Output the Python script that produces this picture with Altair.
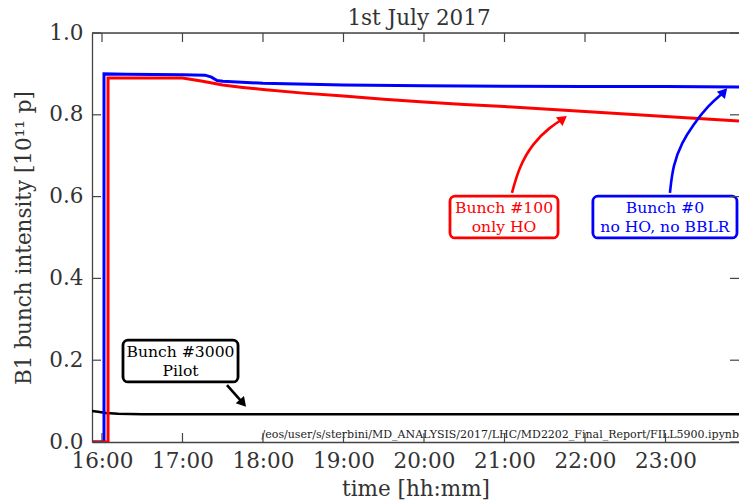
import altair as alt
import pandas as pd

# Time axis in decimal hours (1st July 2017), intensity in units of 1e11 protons
T_START, T_END = 15.876, 23.913

bunch0_t = [15.876, 16.025, 16.025, 16.3, 17.0, 17.28, 17.36, 17.43, 17.5, 18.0, 19.0, 20.0, 21.0, 22.0, 23.0, 23.913]
bunch0_v = [0.0, 0.0, 0.900, 0.899, 0.898, 0.897, 0.892, 0.884, 0.882, 0.877, 0.873, 0.871, 0.870, 0.869, 0.869, 0.868]

bunch100_t = [15.876, 16.075, 16.075, 16.5, 17.0, 17.25, 17.5, 17.75, 18.0, 18.5, 19.0, 19.5, 20.0, 20.5, 21.0, 22.0, 23.0, 23.913]
bunch100_v = [0.0, 0.0, 0.890, 0.890, 0.890, 0.882, 0.873, 0.867, 0.862, 0.853, 0.846, 0.838, 0.831, 0.825, 0.820, 0.808, 0.796, 0.785]

pilot_t = [15.876, 15.95, 16.05, 16.2, 16.5, 18.0, 20.0, 23.913]
pilot_v = [0.076, 0.074, 0.071, 0.069, 0.068, 0.068, 0.068, 0.068]

hour_ticks = [16, 17, 18, 19, 20, 21, 22, 23]
value_ticks = [0.0, 0.2, 0.4, 0.6, 0.8, 1.0]

# Annotation boxes: label, colour, box extent (hours / intensity)
box_labels = ["Bunch #3000\nPilot", "Bunch #100\nonly HO", "Bunch #0\nno HO, no BBLR"]
box_colors = ["#000000", "#ff0000", "#0000ff"]
box_t1 = [16.261, 20.323, 22.098]
box_t2 = [17.690, 21.665, 23.888]
box_v1 = [0.147, 0.499, 0.499]
box_v2 = [0.249, 0.601, 0.601]

# Arrow paths from each box towards its trace
arrow_pilot_t = [17.553, 17.751]
arrow_pilot_v = [0.139, 0.095]
arrow_red_t = [21.093, 21.180, 21.354, 21.565, 21.727]
arrow_red_v = [0.609, 0.672, 0.731, 0.770, 0.790]
arrow_blue_t = [23.055, 23.093, 23.205, 23.342, 23.527, 23.727]
arrow_blue_v = [0.609, 0.677, 0.733, 0.775, 0.822, 0.856]
head_angles = [139, 53, 42]

chart_title = "1st July 2017"
notebook_path = "/eos/user/s/sterbini/MD_ANALYSIS/2017/LHC/MD2202_Final_Report/FILL5900.ipynb"

W, H = 647, 409
FONT = "DejaVu Serif"
FS = 21.5
TXT = "#333333"
SPINE = "#444444"

x_scale = alt.Scale(domain=[T_START, T_END], nice=False, zero=False)
y_scale = alt.Scale(domain=[0, 1], nice=False, zero=False)
x_axis = alt.Axis(values=hour_ticks, labelExpr="datum.value + ':00'", ticks=False, grid=False,
                  domainColor=SPINE, domainWidth=1.3, labelFont=FONT, labelFontSize=FS,
                  labelColor=TXT, labelPadding=8, title="time [hh:mm]", titleFont=FONT,
                  titleFontSize=FS, titleFontWeight="normal", titleColor=TXT, titlePadding=7)
y_axis = alt.Axis(values=value_ticks, format=".1f", ticks=False, grid=False,
                  domainColor=SPINE, domainWidth=1.3, labelFont=FONT, labelFontSize=FS,
                  labelColor=TXT, labelPadding=9, title="B1 bunch intensity [10¹¹ p]",
                  titleFont=FONT, titleFontSize=FS, titleFontWeight="normal", titleColor=TXT,
                  titlePadding=13)

X = alt.X("t:Q", scale=x_scale, axis=x_axis)
Y = alt.Y("v:Q", scale=y_scale, axis=y_axis)


def series(ts, vs):
    return pd.DataFrame({"t": ts, "v": vs, "i": range(len(ts))})


def trace(ts, vs, color, width):
    return alt.Chart(series(ts, vs)).mark_line(color=color, strokeWidth=width, clip=True).encode(
        x=X, y=Y, order="i:Q")


pilot = trace(pilot_t, pilot_v, "#000000", 2.6)
blue = trace(bunch0_t, bunch0_v, "#0000ff", 3)
red = trace(bunch100_t, bunch100_v, "#ff0000", 3)

# Frame: top spine and inward ticks on all four sides
frame_top = alt.Chart(pd.DataFrame({"k": [0]})).mark_rule(color=SPINE, strokeWidth=1.3).encode(
    x=alt.value(0), x2=alt.value(W), y=alt.value(0))
hours_df = pd.DataFrame({"t": hour_ticks})
values_df = pd.DataFrame({"v": value_ticks})
tick_style = dict(color=SPINE, strokeWidth=1.2)
ticks_bottom = alt.Chart(hours_df).mark_rule(**tick_style).encode(x=X, y=alt.value(H), y2=alt.value(H - 9))
ticks_top = alt.Chart(hours_df).mark_rule(**tick_style).encode(x=X, y=alt.value(0), y2=alt.value(9))
ticks_left = alt.Chart(values_df).mark_rule(**tick_style).encode(y=Y, x=alt.value(0), x2=alt.value(9))
ticks_right = alt.Chart(values_df).mark_rule(**tick_style).encode(y=Y, x=alt.value(W), x2=alt.value(W - 9))

# Annotation boxes with their labels
boxes_df = pd.DataFrame({
    "label": box_labels, "color": box_colors,
    "t": box_t1, "t2": box_t2, "v": box_v1, "v2": box_v2,
    "tc": [(a + b) / 2 for a, b in zip(box_t1, box_t2)],
    "vc": [(a + b) / 2 for a, b in zip(box_v1, box_v2)],
})
color_scale = alt.Scale(domain=box_colors, range=box_colors)
boxes = alt.Chart(boxes_df).mark_rect(fill="white", strokeWidth=2.8, cornerRadius=5).encode(
    x=X, x2="t2:Q", y=Y, y2="v2:Q",
    stroke=alt.Stroke("color:N", scale=color_scale, legend=None))
box_text = alt.Chart(boxes_df).mark_text(font=FONT, fontSize=15.6, lineBreak="\n", lineHeight=19,
                                         align="center", baseline="middle", dy=-9.5).encode(
    x=alt.X("tc:Q", scale=x_scale, axis=x_axis), y=alt.Y("vc:Q", scale=y_scale, axis=y_axis),
    text="label:N", color=alt.Color("color:N", scale=color_scale, legend=None))

arrows = []
heads = []
for ts, vs, col, ang in [(arrow_pilot_t, arrow_pilot_v, "#000000", head_angles[0]),
                         (arrow_red_t, arrow_red_v, "#ff0000", head_angles[1]),
                         (arrow_blue_t, arrow_blue_v, "#0000ff", head_angles[2])]:
    arrows.append(alt.Chart(series(ts, vs)).mark_line(color=col, strokeWidth=2.6, interpolate="basis").encode(
        x=X, y=Y, order="i:Q"))
    heads.append(alt.Chart(series(ts[-1:], vs[-1:])).mark_point(
        shape="triangle-up", filled=True, color=col, size=120, angle=ang, opacity=1).encode(x=X, y=Y))

watermark = alt.Chart(pd.DataFrame({"label": [notebook_path]})).mark_text(
    font=FONT, fontSize=11, align="right", baseline="alphabetic", color="#222222").encode(
    text="label:N", x=alt.value(W), y=alt.value(H - 4))

title_text = alt.Chart(pd.DataFrame({"label": [chart_title]})).mark_text(
    font=FONT, fontSize=FS, align="center", baseline="alphabetic", color=TXT).encode(
    text="label:N", x=alt.value(327), y=alt.value(-8))

chart = alt.layer(
    pilot, blue, red, watermark, *arrows, *heads, boxes, box_text,
    frame_top, ticks_bottom, ticks_top, ticks_left, ticks_right, title_text,
).properties(
    width=W, height=H,
    autosize=alt.AutoSizeParams(type="none"),
    padding={"left": 92, "top": 33, "right": 0, "bottom": 60},
).configure_view(stroke=None).configure(background="white")

chart.save("out.html", embed_options={"renderer": "svg", "actions": False})
